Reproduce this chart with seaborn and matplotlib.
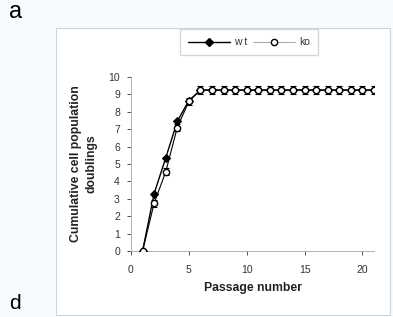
import matplotlib
matplotlib.use("Agg")
import matplotlib.pyplot as plt
import seaborn as sns
import numpy as np
import pandas as pd
from matplotlib.patches import Rectangle
from matplotlib.lines import Line2D

passage = list(range(1, 22))
wt = [0, 3.3, 5.35, 7.45, 8.65] + [9.25] * 16
ko = [0, 2.75, 4.55, 7.1, 8.6] + [9.25] * 16
ko_err = [0, 0.2, 0.2, 0.2, 0.2] + [0.25] * 16
xticks = [0, 5, 10, 15, 20]
yticks = list(range(0, 11))

sns.set_theme(style="white")
plt.rcParams['font.family'] = ['Liberation Sans', 'DejaVu Sans']

fig = plt.figure(figsize=(3.93, 3.17), dpi=100)
fig.patch.set_facecolor('#f8fbfd')
fig.patches.append(Rectangle((0.1425, 0.006), 0.849, 0.906, transform=fig.transFigure,
                             fill=True, facecolor='white', edgecolor='#d0d4d8', lw=0.8, zorder=-5))
ax = fig.add_axes([0.3333, 0.208, 0.6184, 0.549])
ax.set_facecolor('none')
ax.set_zorder(2)

df = pd.DataFrame({"passage": passage, "wt": wt, "ko": ko})
ax.errorbar(passage, ko, yerr=ko_err, fmt='none', ecolor='black', elinewidth=0.8,
            capsize=2.5, capthick=0.8, zorder=2)
sns.lineplot(data=df, x="passage", y="wt", ax=ax, color='black', lw=1.0,
             marker='D', markersize=4, markerfacecolor='black', markeredgecolor='black',
             zorder=3)
sns.lineplot(data=df, x="passage", y="ko", ax=ax, color='black', lw=0.8,
             marker='o', markersize=4.5, markerfacecolor='white', markeredgecolor='black',
             markeredgewidth=1.0, zorder=4)

ax.set_xlim(0, 21)
ax.set_ylim(0, 10)
ax.set_xticks(xticks)
ax.set_yticks(yticks)
ax.tick_params(axis='both', labelsize=7.5, colors='#333333', length=3, width=0.6, direction='out',
               left=True, bottom=True)
ax.tick_params(axis='x', pad=7)
ax.tick_params(axis='y', pad=5)
for s in ['top', 'right']:
    ax.spines[s].set_visible(False)
for s in ['left', 'bottom']:
    ax.spines[s].set_color('#b0b0b0')
    ax.spines[s].set_linewidth(0.7)
ax.set_xlabel("Passage number", fontsize=8.8, fontweight='bold', color='#222222', labelpad=5)
ax.set_ylabel("Cumulative cell population\ndoublings", fontsize=8.8, fontweight='bold',
              color='#222222', labelpad=8, linespacing=1.4)

handles = [Line2D([], [], color='black', lw=1.0, marker='D', markersize=4, markerfacecolor='black'),
           Line2D([], [], color='#999999', lw=0.6, marker='o', markersize=4.5,
                  markerfacecolor='white', markeredgecolor='black')]
fig.legend(handles, ['w t', 'ko'], loc='center', bbox_to_anchor=(0.634, 0.867), ncol=2,
           fontsize=7.5, frameon=True, fancybox=False, edgecolor='#cccccc', handlelength=4.0,
           handletextpad=0.4, columnspacing=0.6, borderpad=0.75, labelcolor='#333333')

fig.text(0.022, 0.962, "a", fontsize=17, color='black', va='center')
fig.text(0.022, 0.012, "d", fontsize=15, color='black', va='bottom')

fig.savefig("out.png", dpi=100, facecolor=fig.get_facecolor())
